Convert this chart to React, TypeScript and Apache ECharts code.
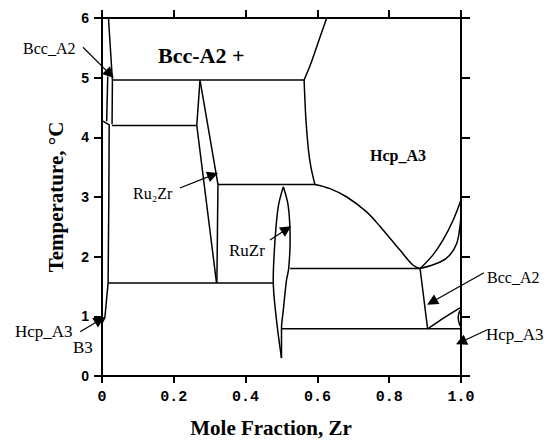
import React, { useEffect, useRef } from "react";
import * as echarts from "echarts";

// Axis ticks
const xTickValues = [0, 0.2, 0.4, 0.6, 0.8, 1.0];
const yTickValues = [0, 1, 2, 3, 4, 5, 6];

// Phase boundaries (mole fraction Zr, temperature)
const bccSolvusLeft = [[0.018, 6.0], [0.029, 4.96], [0.028, 4.22]];
const bccInnerEdge = [[0.016, 5.02], [0.013, 4.27]];
const shortLeftSeg = [[0.003, 4.27], [0.022, 4.2]];
const hcpLeftBoundary = [[0.02, 4.2], [0.019, 3.0], [0.017, 1.56], [0.008, 0.98], [0.001, 0.9]];
const line496 = [[0.029, 4.96], [0.563, 4.96]];
const line420 = [[0.028, 4.2], [0.264, 4.2]];
const line156 = [[0.017, 1.56], [0.477, 1.56]];
const ru2zrLeft = [[0.273, 4.96], [0.264, 4.2], [0.319, 1.56]];
const ru2zrRight = [[0.273, 4.96], [0.323, 3.21], [0.32, 1.56]];
const bccLiquidTop = [[0.563, 4.96], [0.582, 5.24], [0.601, 5.57], [0.626, 6.0]];
const bccRightEdge = [[0.563, 4.96], [0.568, 4.3], [0.575, 3.79], [0.582, 3.5], [0.593, 3.21]];
const line321 = [[0.323, 3.21], [0.593, 3.21]];
const hcpCurve = [[0.593, 3.21], [0.635, 3.14], [0.682, 3.0], [0.737, 2.75], [0.774, 2.51], [0.83, 2.11], [0.866, 1.86], [0.886, 1.8]];
const line180 = [[0.524, 1.8], [0.886, 1.8]];
const upperRightCurve = [[0.886, 1.8], [0.922, 2.03], [0.95, 2.28], [0.978, 2.61], [1.0, 2.95]];
const lowerRightCurve = [[0.886, 1.8], [0.942, 1.91], [0.969, 2.03], [0.988, 2.22], [0.997, 2.5], [1.0, 2.7]];
const bccDrop = [[0.886, 1.8], [0.907, 0.79]];
const line079 = [[0.5, 0.79], [1.0, 0.79]];
const bccHcpRight = [[0.907, 0.79], [0.951, 0.97], [0.997, 1.14]];
const smallArc = [[0.997, 1.1], [0.992, 0.98], [0.997, 0.84]];
const ruzrLeft = [[0.505, 3.17], [0.491, 2.84], [0.482, 2.28], [0.477, 1.61], [0.486, 0.94], [0.5, 0.3]];
const ruzrRight = [[0.505, 3.17], [0.519, 2.84], [0.524, 2.28], [0.52, 1.8], [0.514, 1.61], [0.505, 1.1], [0.5, 0.79], [0.5, 0.3]];

// Annotation arrows (from label to target)
const arrowBccTopLeft = [[-0.053, 5.51], [0.022, 5.06]];
const arrowRu2Zr = [[0.217, 3.15], [0.309, 3.37]];
const arrowRuZr = [[0.468, 2.28], [0.514, 2.46]];
const arrowBccRight = [[1.064, 1.73], [0.919, 1.24]];
const arrowHcpRight = [[1.072, 0.77], [1.0, 0.57]];
const arrowHcpLeft = [[-0.061, 0.74], [-0.006, 0.94]];

const straightLines = [bccSolvusLeft, bccInnerEdge, shortLeftSeg, hcpLeftBoundary, line496, line420, line156, ru2zrLeft, ru2zrRight, line321, line180, bccDrop, line079, bccHcpRight];
const curvedLines = [bccLiquidTop, bccRightEdge, hcpCurve, upperRightCurve, lowerRightCurve, smallArc, ruzrLeft, ruzrRight];
const arrows = [arrowBccTopLeft, arrowRu2Zr, arrowRuZr, arrowBccRight, arrowHcpRight, arrowHcpLeft];

const SERIF = "'Liberation Serif', 'Times New Roman', serif";

export default function App() {
  const ref = useRef<HTMLDivElement>(null);
  useEffect(() => {
    if (!ref.current) return;
    const chart = echarts.init(ref.current, undefined, { renderer: "svg" });
    const lineSeries: any[] = [];
    straightLines.forEach((d) =>
      lineSeries.push({
        type: "line", data: d, showSymbol: false, smooth: false, silent: true,
        lineStyle: { color: "#000", width: 1.5 }, xAxisIndex: 0, yAxisIndex: 0,
      })
    );
    curvedLines.forEach((d) =>
      lineSeries.push({
        type: "line", data: d, showSymbol: false, smooth: 0.35, silent: true,
        lineStyle: { color: "#000", width: 1.5 }, xAxisIndex: 0, yAxisIndex: 0,
      })
    );
    lineSeries.push({
      type: "lines", coordinateSystem: "cartesian2d", xAxisIndex: 0, yAxisIndex: 0,
      clip: false, silent: true,
      symbol: ["none", "triangle"], symbolSize: 11,
      lineStyle: { color: "#000", width: 1.2, opacity: 1, curveness: 0 },
      itemStyle: { color: "#000" },
      data: arrows.map((a) => ({ coords: a })),
    });

    const fmtX = (v: number) => (v === 0 ? "0" : v === 1 ? "1.0" : v.toFixed(1));
    const label = (text: string, x: number, y: number, size: number, weight: string = "normal") => ({
      type: "text", x, y,
      style: { text, fontFamily: SERIF, fontSize: size, fontWeight: weight, fill: "#000", textAlign: "left", textVerticalAlign: "middle", verticalAlign: "middle" },
    });

    chart.setOption({
      animation: false,
      backgroundColor: "#fff",
      grid: { left: 102, right: 92, top: 18, bottom: 65 },
      xAxis: [
        {
          type: "value", min: xTickValues[0], max: xTickValues[xTickValues.length - 1], interval: 0.2, position: "bottom",
          axisLine: { show: true, onZero: false, lineStyle: { color: "#000", width: 2 } },
          axisTick: { show: true, length: 7, lineStyle: { color: "#000", width: 2 } },
          axisLabel: { color: "#000", fontFamily: "'Liberation Mono', monospace", fontWeight: "bold", fontSize: 15, margin: 14, formatter: fmtX },
          splitLine: { show: false },
        },
        {
          type: "value", min: 0, max: 1, interval: 0.2, position: "top",
          axisLine: { show: true, onZero: false, lineStyle: { color: "#000", width: 2 } },
          axisTick: { show: true, length: 8, lineStyle: { color: "#000", width: 2 } },
          axisLabel: { show: false }, splitLine: { show: false },
        },
      ],
      yAxis: [
        {
          type: "value", min: yTickValues[0], max: yTickValues[yTickValues.length - 1], interval: 1, position: "left",
          axisLine: { show: true, onZero: false, lineStyle: { color: "#000", width: 2 } },
          axisTick: { show: true, length: 8, lineStyle: { color: "#000", width: 2 } },
          axisLabel: { color: "#000", fontFamily: "'Liberation Sans', Arial, sans-serif", fontWeight: "bold", fontSize: 14, margin: 13 },
          splitLine: { show: false },
        },
        {
          type: "value", min: 0, max: 6, interval: 1, position: "right",
          axisLine: { show: true, onZero: false, lineStyle: { color: "#000", width: 2 } },
          axisTick: { show: true, length: 9, lineStyle: { color: "#000", width: 2 } },
          axisLabel: { show: false }, splitLine: { show: false },
        },
      ],
      series: lineSeries,
      graphic: [
        {
          type: "text", x: 56, y: 197, rotation: Math.PI / 2,
          style: { text: "Temperature, °C", fontFamily: SERIF, fontSize: 21, fontWeight: "bold", fill: "#000", textAlign: "center", textVerticalAlign: "middle", verticalAlign: "middle" },
        },
        {
          type: "text", x: 271, y: 428,
          style: { text: "Mole Fraction, Zr", fontFamily: SERIF, fontSize: 21, fontWeight: "bold", fill: "#000", textAlign: "center", textVerticalAlign: "middle", verticalAlign: "middle" },
        },
        label("Bcc-A2 +", 158, 55, 22, "bold"),
        label("Hcp_A3", 370, 155, 16, "bold"),
        label("Ru₂Zr", 133, 193, 16),
        label("RuZr", 229, 250, 17),
        label("Bcc_A2", 23, 48, 16),
        label("Hcp_A3", 15, 331, 17),
        label("B3", 73, 347, 17),
        label("Bcc_A2", 487, 277, 16),
        label("Hcp_A3", 486, 334, 17),
      ],
    });
    return () => chart.dispose();
  }, []);
  return <div ref={ref} style={{ position: "fixed", left: 0, top: 0, width: 553, height: 441 }} />;
}
